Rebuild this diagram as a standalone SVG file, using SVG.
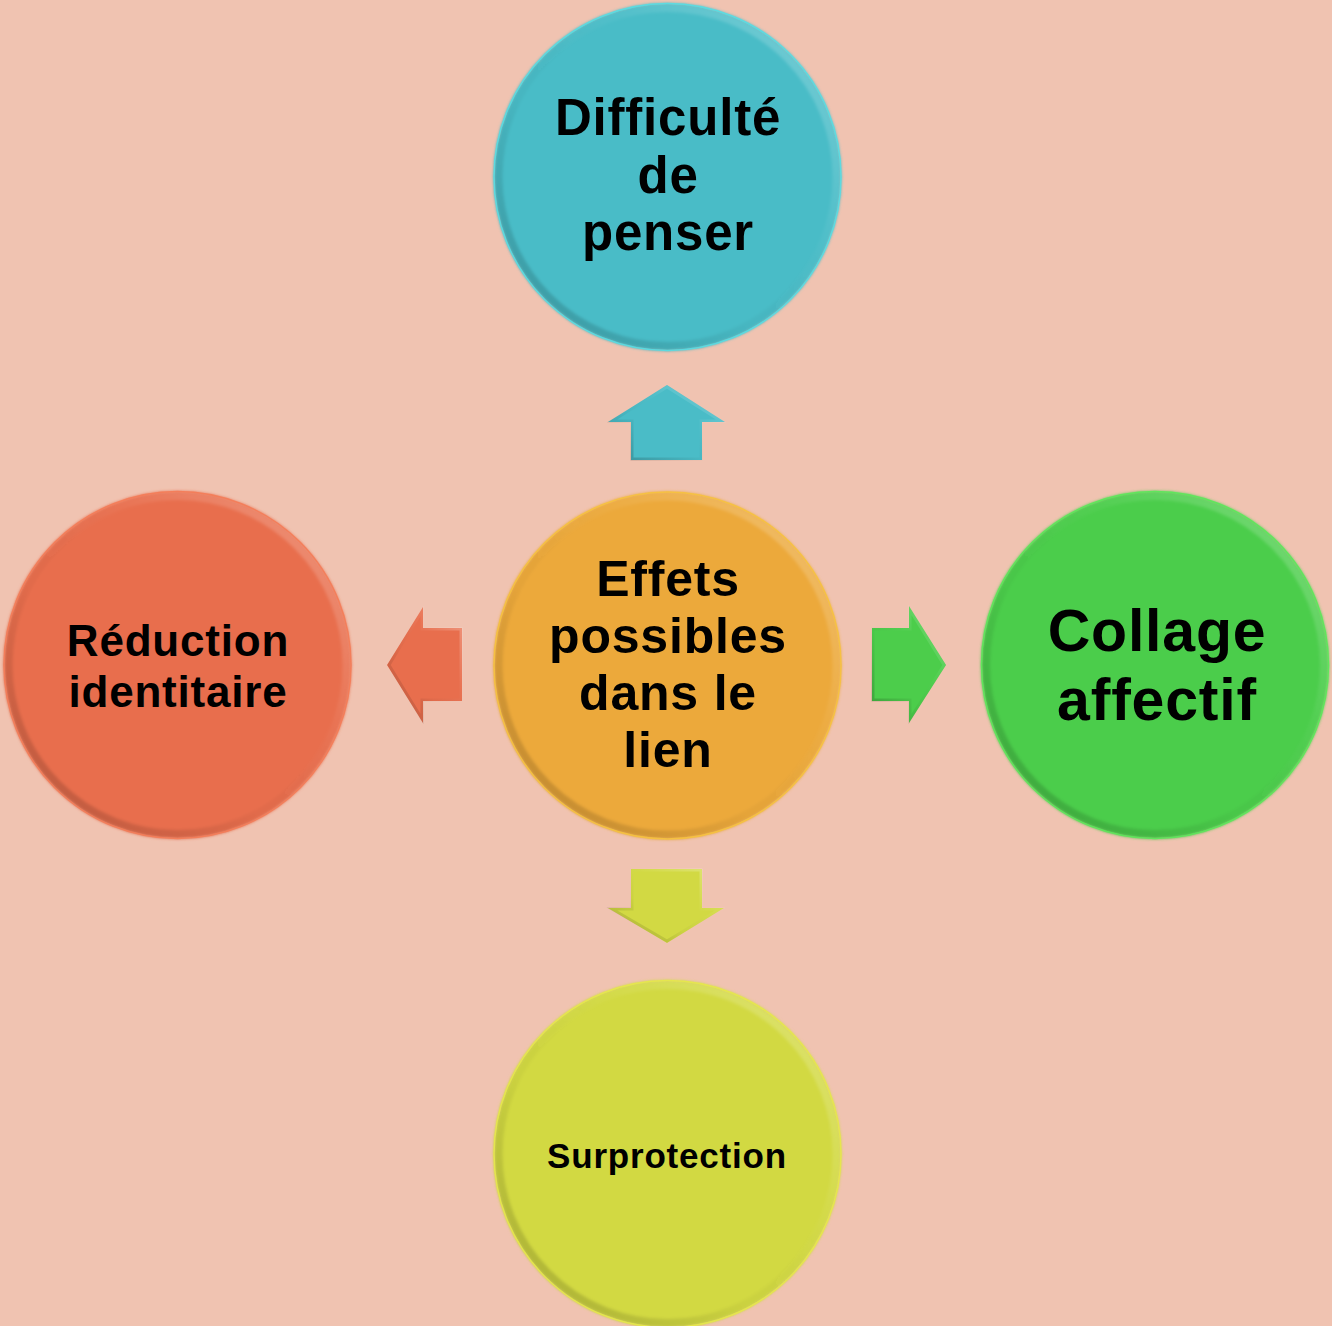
<svg xmlns="http://www.w3.org/2000/svg" width="1332" height="1326" viewBox="0 0 1332 1326">
  <style>
    .label { font-family: "Liberation Sans", Arial, sans-serif; font-weight: 700; fill: #000; text-anchor: middle; letter-spacing: 0.8px; }
    .core { filter: url(#soft); }
    .rim { fill: none; stroke: url(#bevel); stroke-width: 8; filter: url(#soft); }
    .edge { fill: none; stroke-width: 1.5; stroke-opacity: 0.9; }
    .arrow-bevel { fill: none; stroke: url(#bevel); stroke-width: 3; }
  </style>
  <defs>
    <!-- light top-right, dark bottom-left bevel shared by all shapes -->
    <linearGradient id="bevel" x1="1" y1="0" x2="0" y2="1">
      <stop offset="0" stop-color="#ffffff" stop-opacity="0.28"/>
      <stop offset="0.35" stop-color="#ffffff" stop-opacity="0.04"/>
      <stop offset="0.6" stop-color="#000000" stop-opacity="0.03"/>
      <stop offset="1" stop-color="#000000" stop-opacity="0.22"/>
    </linearGradient>
    <filter id="soft" x="-5%" y="-5%" width="110%" height="110%">
      <feGaussianBlur stdDeviation="1.6"/>
    </filter>
  </defs>

  <rect width="1332" height="1326" fill="#F0C3B1"/>

  <!-- connectors: block arrows from the centre outwards -->
  <g id="connectors">
    <g id="arrow-up">
      <polygon points="667,385 725,422 702,422 702,460 631,460 631,422 608,422" fill="#4ABCC7"/>
      <polygon class="arrow-bevel" points="667,387 721,421 701,421 701,459 632,459 632,421 612,421"/>
    </g>
    <g id="arrow-right">
      <polygon points="872,628 909,628 909,606 946,665 909,723 909,701 872,701" fill="#4CCD4B"/>
      <polygon class="arrow-bevel" points="873,629 910,629 910,610 944,665 910,719 910,700 873,700"/>
    </g>
    <g id="arrow-left">
      <polygon points="387,665 423,607 423,628 462,628 462,701 423,701 423,723" fill="#E86E4D"/>
      <polygon class="arrow-bevel" points="389,665 422,611 422,629 461,629 461,700 422,700 422,719"/>
    </g>
    <g id="arrow-down">
      <polygon points="631,869 702,869 702,908 724,908 667,943 608,908 631,908" fill="#D2D943"/>
      <polygon class="arrow-bevel" points="632,870 701,870 701,909 720,909 667,941 612,909 632,909"/>
    </g>
  </g>

  <!-- top node -->
  <g id="node-penser">
    <circle cx="667.5" cy="177" r="174" fill="#4ABCC7" class="core"/>
    <circle cx="667.5" cy="177" r="169" class="rim"/>
    <circle cx="667.5" cy="177" r="173.5" class="edge" stroke="#58DDE3"/>
    <text class="label" font-size="51" x="668" y="135">Difficulté</text>
    <text class="label" font-size="51" x="668" y="193">de</text>
    <text class="label" font-size="51" x="668" y="250">penser</text>
  </g>

  <!-- centre node -->
  <g id="node-effets">
    <circle cx="667.5" cy="665.5" r="174" fill="#ECA93A" class="core"/>
    <circle cx="667.5" cy="665.5" r="169" class="rim"/>
    <circle cx="667.5" cy="665.5" r="173.5" class="edge" stroke="#F6C23E"/>
    <text class="label" font-size="50" x="668" y="596">Effets</text>
    <text class="label" font-size="50" x="668" y="653">possibles</text>
    <text class="label" font-size="50" x="668" y="710">dans le</text>
    <text class="label" font-size="50" x="668" y="767">lien</text>
  </g>

  <!-- left node -->
  <g id="node-reduction">
    <circle cx="177.5" cy="665" r="174" fill="#E86E4D" class="core"/>
    <circle cx="177.5" cy="665" r="169" class="rim"/>
    <circle cx="177.5" cy="665" r="173.5" class="edge" stroke="#F47C58"/>
    <text class="label" font-size="44" x="178" y="656">Réduction</text>
    <text class="label" font-size="44" x="178" y="707">identitaire</text>
  </g>

  <!-- right node -->
  <g id="node-collage">
    <circle cx="1155" cy="665" r="174" fill="#4CCD4B" class="core"/>
    <circle cx="1155" cy="665" r="169" class="rim"/>
    <circle cx="1155" cy="665" r="173.5" class="edge" stroke="#5CE85A"/>
    <text class="label" font-size="59" x="1157" y="651">Collage</text>
    <text class="label" font-size="59" x="1157" y="720">affectif</text>
  </g>

  <!-- bottom node -->
  <g id="node-surprotection">
    <circle cx="667.5" cy="1154" r="174" fill="#D2D943" class="core"/>
    <circle cx="667.5" cy="1154" r="169" class="rim"/>
    <circle cx="667.5" cy="1154" r="173.5" class="edge" stroke="#E6E84A"/>
    <text class="label" font-size="35" x="667" y="1168">Surprotection</text>
  </g>
</svg>
